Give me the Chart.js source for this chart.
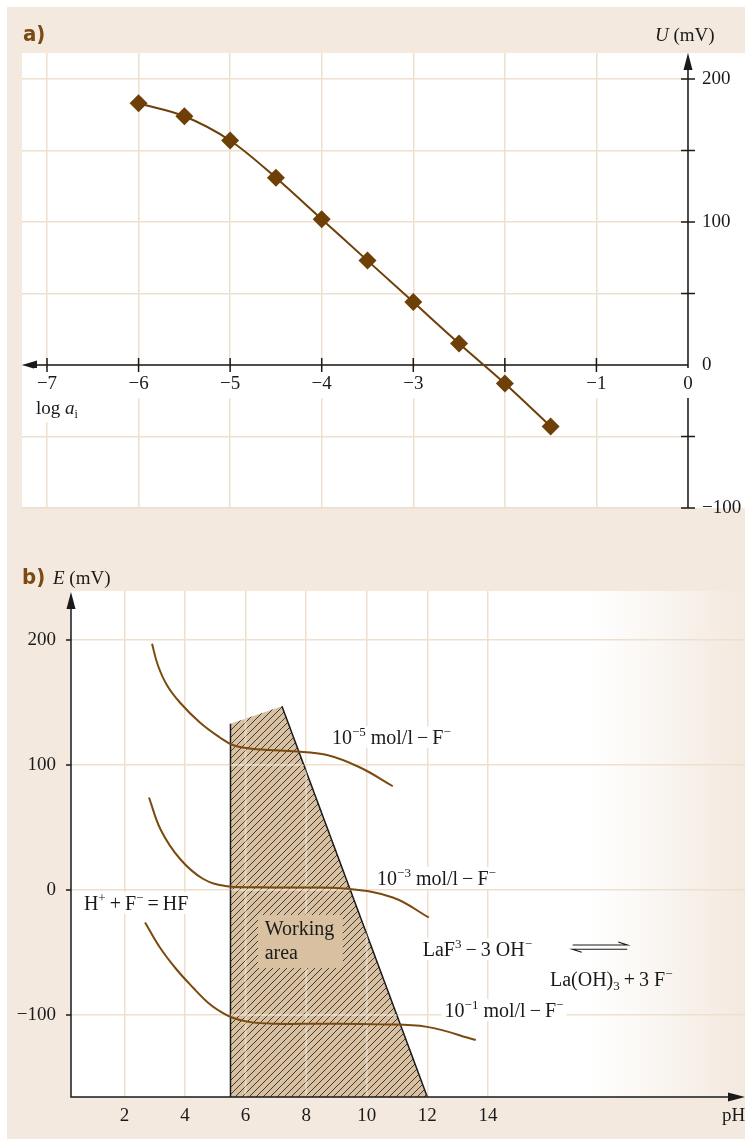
<!DOCTYPE html>
<html>
<head>
<meta charset="utf-8">
<script src="https://cdn.jsdelivr.net/npm/chart.js@4.4.1/dist/chart.umd.min.js"></script>
<style>
  html, body { margin: 0; padding: 0; background: #fff; }
  #wrap { position: relative; width: 745px; height: 1139px; overflow: hidden; }
  #bg { position: absolute; left: 7px; top: 7px; right: 0; bottom: 0; background: #f3e9df; }
  #cA { position: absolute; left: 0; top: 0; }
  #cB { position: absolute; left: 0; top: 520px; }
</style>
</head>
<body>
<div id="wrap">
  <div id="bg"></div>
  <canvas id="cA" width="745" height="520"></canvas>
  <canvas id="cB" width="745" height="619"></canvas>
</div>
<script>
// ---- panel a: U vs log a_i ----
const logA = [-6, -5.5, -5, -4.5, -4, -3.5, -3, -2.5, -2, -1.5];
const potU = [183, 174, 157, 131, 102, 73, 44, 15, -13, -43];
const xTicksA = [-7, -6, -5, -4, -3, -2, -1, 0];
const xLabelsA = ['−7', '−6', '−5', '−4', '−3', '', '−1', '0'];   // -2 sits under a marker
const yTicksA = [-100, -50, 0, 50, 100, 150, 200];
const yLabelValsA = [-100, 0, 100, 200];

// ---- panel b: E vs pH ----
const pH5 = [2.91, 3.1, 3.4, 3.83, 4.49, 5.15, 5.58, 6.2, 7.56, 8.69, 9.78, 10.86];
const E5  = [197, 180, 164, 150, 134, 122, 116, 113, 111, 108, 98, 83];
const pH3 = [2.81, 3.2, 3.83, 4.59, 5.38, 6.4, 7.56, 9.34, 10.86, 12.05];
const E3  = [74, 48, 25, 9, 3, 2.2, 2, 1, -6, -22];
const pH1 = [2.68, 3.17, 3.7, 4.26, 4.75, 5.15, 5.55, 6.1, 7.0, 8.5, 10.43, 11.99, 13.6];
const E1  = [-26, -46, -63, -78, -90, -97, -102, -105.5, -107, -107, -107.5, -109.5, -120];
const workPH = [5.5, 5.5, 7.2, 12];
const workE  = [-165.6, 133, 147, -165.6];
const xTicksB = [2, 4, 6, 8, 10, 12, 14];
const yTicksB = [-100, 0, 100, 200];

const BEIGE = '#f3e9df';
const GRID = '#efdfce';
const BROWN = '#6e3f07';
const INK = '#1a1a1a';
const SERIF = '"Liberation Serif", "Times New Roman", serif';
const FS = 19;

const pts = (xs, ys) => xs.map((v, i) => ({ x: v, y: ys[i] }));

// text with sup/sub/italic pieces, y is the vertical centre
function rich(ctx, x, y, parts, fs, bg) {
  const fontOf = k => (k === 'i' ? 'italic ' : '') +
    ((k === 'sup' || k === 'sub') ? Math.round(fs * 0.64) : fs) + 'px ' + SERIF;
  let w = 0;
  parts.forEach(([t, k]) => { ctx.font = fontOf(k); w += ctx.measureText(t).width; });
  if (bg) { ctx.fillStyle = bg; ctx.fillRect(x - 3, y - fs * 0.55, w + 6, fs * 1.1); }
  ctx.fillStyle = INK;
  ctx.textAlign = 'left';
  ctx.textBaseline = 'alphabetic';
  const base = y + fs * 0.34;
  let cx = x;
  parts.forEach(([t, k]) => {
    ctx.font = fontOf(k);
    const dy = k === 'sup' ? -fs * 0.4 : k === 'sub' ? fs * 0.2 : 0;
    ctx.fillText(t, cx, base + dy);
    cx += ctx.measureText(t).width;
  });
  return w;
}

function arrowHead(ctx, x, y, dir, len, half) {
  ctx.beginPath();
  if (dir === 'left') { ctx.moveTo(x, y); ctx.lineTo(x + len, y - half); ctx.lineTo(x + len, y + half); }
  if (dir === 'right') { ctx.moveTo(x, y); ctx.lineTo(x - len, y - half); ctx.lineTo(x - len, y + half); }
  if (dir === 'up') { ctx.moveTo(x, y); ctx.lineTo(x - half, y + len); ctx.lineTo(x + half, y + len); }
  ctx.closePath();
  ctx.fill();
}

function panelLabel(ctx, t, x, y) {
  ctx.font = 'bold 22px "Liberation Sans Narrow", "DejaVu Sans Condensed", sans-serif';
  ctx.fillStyle = '#7a4a12';
  ctx.textAlign = 'left';
  ctx.textBaseline = 'middle';
  ctx.fillText(t, x, y);
}

function hiddenScale(ticks, min, max, horizontal) {
  return {
    type: 'linear', min, max,
    afterBuildTicks: s => { s.ticks = ticks.map(v => ({ value: v })); },
    afterFit: s => { if (horizontal) s.height = 0; else s.width = 0; },
    ticks: { display: false },
    border: { display: false },
    grid: { color: GRID, lineWidth: 1.5, drawTicks: false }
  };
}

// ------------------------------------------------------------ chart a
const panelAPlugin = {
  id: 'panelA',
  beforeDraw(chart) {
    const { ctx, chartArea: ca } = chart;
    ctx.save();
    ctx.fillStyle = '#fff';
    ctx.fillRect(ca.left, ca.top, chart.width - ca.left, ca.bottom - ca.top);
    ctx.restore();
  },
  beforeDatasetsDraw(chart) {
    const { ctx, chartArea: ca, scales: { x, y } } = chart;
    const x0 = x.getPixelForValue(0), y0 = y.getPixelForValue(0);
    ctx.save();
    ctx.strokeStyle = INK; ctx.fillStyle = INK; ctx.lineWidth = 1.5;
    // axes
    ctx.beginPath();
    ctx.moveTo(ca.left + 4, y0); ctx.lineTo(x0, y0);
    ctx.moveTo(x0, ca.top + 6); ctx.lineTo(x0, ca.bottom);
    ctx.stroke();
    arrowHead(ctx, ca.left, y0, 'left', 15, 4.5);
    arrowHead(ctx, x0, ca.top, 'up', 17, 4.5);
    // white backing of x tick labels
    ctx.font = FS + 'px ' + SERIF;
    ctx.textAlign = 'center'; ctx.textBaseline = 'middle';
    xTicksA.forEach((v, i) => {
      if (!xLabelsA[i]) return;
      const px = x.getPixelForValue(v);
      const w = ctx.measureText(xLabelsA[i]).width;
      ctx.fillStyle = '#fff';
      ctx.fillRect(px - w / 2 - 3, y0 + 3, w + 6, 30);
    });
    // ticks
    ctx.beginPath();
    xTicksA.forEach(v => {
      if (v === 0) return;
      const px = x.getPixelForValue(v);
      ctx.moveTo(px, y0 - 7); ctx.lineTo(px, y0 + 7);
    });
    yTicksA.forEach(v => {
      if (v === 0) return;
      const py = y.getPixelForValue(v);
      ctx.moveTo(x0 - 7, py); ctx.lineTo(x0 + 7, py);
    });
    ctx.stroke();
    ctx.fillStyle = INK;
    ctx.font = FS + 'px ' + SERIF;
    ctx.textAlign = 'center'; ctx.textBaseline = 'middle';
    xTicksA.forEach((v, i) => {
      if (xLabelsA[i]) ctx.fillText(xLabelsA[i], x.getPixelForValue(v), y0 + 19);
    });
    ctx.textAlign = 'left';
    yLabelValsA.forEach(v => {
      ctx.fillText(v < 0 ? '−' + Math.abs(v) : String(v), x0 + 14, y.getPixelForValue(v));
    });
    // axis titles
    const lx = x.getPixelForValue(-7.12), ly = y.getPixelForValue(-30);
    ctx.fillStyle = '#fff';
    ctx.fillRect(lx - 3, ly - 12, 52, 26);
    rich(ctx, lx, ly, [['log ', 'n'], ['a', 'i'], ['i', 'sub']], FS);
    rich(ctx, x0 - 33, ca.top - 18, [['U', 'i'], [' (mV)', 'n']], FS);
    panelLabel(ctx, 'a)', 23, ca.top - 18);
    ctx.restore();
  }
};

new Chart(document.getElementById('cA'), {
  type: 'scatter',
  data: {
    datasets: [{
      data: pts(logA, potU),
      showLine: true,
      borderColor: BROWN,
      borderWidth: 2,
      cubicInterpolationMode: 'monotone',
      pointStyle: 'rectRot',
      pointRadius: 9,
      pointBackgroundColor: BROWN,
      pointBorderColor: BROWN,
      pointBorderWidth: 0,
      clip: false
    }]
  },
  options: {
    responsive: false,
    animation: false,
    events: [],
    layout: { padding: { left: 22, right: 57, top: 53, bottom: 12 }, autoPadding: false },
    plugins: { legend: { display: false }, tooltip: { enabled: false } },
    scales: {
      x: hiddenScale(xTicksA, -7.273, 0, true),
      y: hiddenScale(yTicksA, -100, 218.2, false)
    }
  },
  plugins: [panelAPlugin]
});

// ------------------------------------------------------------ chart b
function hatchPattern() {
  const s = 7;
  const c = document.createElement('canvas');
  c.width = s; c.height = s;
  const g = c.getContext('2d');
  g.fillStyle = '#d8c0a0';
  g.fillRect(0, 0, s, s);
  g.strokeStyle = '#2a2a2a';
  g.lineWidth = 0.9;
  g.beginPath();
  g.moveTo(-1, s + 1); g.lineTo(s + 1, -1);
  g.moveTo(-1, 1); g.lineTo(1, -1);
  g.moveTo(s - 1, s + 1); g.lineTo(s + 1, s - 1);
  g.stroke();
  return g.createPattern(c, 'repeat');
}

const DASH = '\u2009−\u2009';
const notesB = [
  { x: 8.85, y: 122.4, bg: true, parts: [['10', 'n'], ['−5', 'sup'], [' mol/l' + DASH + 'F', 'n'], ['−', 'sup']] },
  { x: 10.34, y: 9.6, bg: true, parts: [['10', 'n'], ['−3', 'sup'], [' mol/l' + DASH + 'F', 'n'], ['−', 'sup']] },
  { x: 12.57, y: -96, bg: true, parts: [['10', 'n'], ['−1', 'sup'], [' mol/l' + DASH + 'F', 'n'], ['−', 'sup']] },
  { x: 0.66, y: -10.4, bg: true, parts: [['H', 'n'], ['+', 'sup'], ['\u2009+\u2009F', 'n'], ['−', 'sup'], ['\u2009=\u2009HF', 'n']] },
  { x: 11.85, y: -47.2, bg: true, parts: [['LaF', 'n'], ['3', 'sup'], [DASH + '3 OH', 'n'], ['−', 'sup']] },
  { x: 16.05, y: -71.2, bg: false, parts: [['La(OH)', 'n'], ['3', 'sub'], ['\u2009+\u20093 F', 'n'], ['−', 'sup']] }
];

const panelBPlugin = {
  id: 'panelB',
  beforeDraw(chart) {
    const { ctx, chartArea: ca } = chart;
    ctx.save();
    ctx.fillStyle = '#fff';
    ctx.fillRect(ca.left, ca.top, ca.right - ca.left, ca.bottom - ca.top);
    const g = ctx.createLinearGradient(ca.right - 155, 0, ca.right, 0);
    g.addColorStop(0, 'rgba(243,233,223,0)');
    g.addColorStop(1, BEIGE);
    ctx.fillStyle = g;
    ctx.fillRect(ca.right - 155, ca.top, 155, ca.bottom - ca.top);
    ctx.restore();
  },
  afterDatasetDraw(chart, args) {
    if (args.index !== 0) return;
    // grid shows faintly through the hatched working area
    const { ctx, chartArea: ca, scales: { x, y } } = chart;
    const p = args.meta.data;
    ctx.save();
    ctx.beginPath();
    p.forEach((pt, i) => (i ? ctx.lineTo(pt.x, pt.y) : ctx.moveTo(pt.x, pt.y)));
    ctx.closePath();
    ctx.clip();
    ctx.strokeStyle = 'rgba(255,250,244,0.45)';
    ctx.lineWidth = 2;
    ctx.beginPath();
    xTicksB.forEach(v => { const px = x.getPixelForValue(v); ctx.moveTo(px, ca.top); ctx.lineTo(px, ca.bottom); });
    yTicksB.forEach(v => { const py = y.getPixelForValue(v); ctx.moveTo(ca.left, py); ctx.lineTo(ca.right, py); });
    ctx.stroke();
    ctx.restore();
  },
  afterDraw(chart) {
    const { ctx, chartArea: ca, scales: { x, y } } = chart;
    ctx.save();
    ctx.strokeStyle = INK; ctx.fillStyle = INK; ctx.lineWidth = 1.5;
    ctx.beginPath();
    ctx.moveTo(ca.left, ca.top + 6); ctx.lineTo(ca.left, ca.bottom);
    ctx.lineTo(ca.right - 6, ca.bottom);
    yTicksB.forEach(v => { const py = y.getPixelForValue(v); ctx.moveTo(ca.left - 5, py); ctx.lineTo(ca.left, py); });
    ctx.stroke();
    arrowHead(ctx, ca.left, ca.top + 1, 'up', 17, 4.5);
    arrowHead(ctx, ca.right, ca.bottom, 'right', 17, 4.5);

    ctx.font = FS + 'px ' + SERIF;
    ctx.textBaseline = 'middle';
    ctx.textAlign = 'right';
    yTicksB.forEach(v => ctx.fillText(v < 0 ? '−' + Math.abs(v) : String(v), ca.left - 15, y.getPixelForValue(v)));
    ctx.textAlign = 'center';
    xTicksB.forEach(v => ctx.fillText(String(v), x.getPixelForValue(v), ca.bottom + 19));
    ctx.textAlign = 'left';
    ctx.fillText('pH', ca.right - 23, ca.bottom + 19);

    rich(ctx, ca.left - 18, ca.top - 13, [['E', 'i'], [' (mV)', 'n']], FS);
    panelLabel(ctx, 'b)', 22, ca.top - 13);

    // working area label box
    const bx0 = x.getPixelForValue(6.41), bx1 = x.getPixelForValue(9.21);
    const by0 = y.getPixelForValue(-20), by1 = y.getPixelForValue(-62.4);
    ctx.fillStyle = '#d8c0a0';
    ctx.fillRect(bx0, by0, bx1 - bx0, by1 - by0);
    rich(ctx, x.getPixelForValue(6.63), y.getPixelForValue(-30.4), [['Working', 'n']], 20);
    rich(ctx, x.getPixelForValue(6.63), y.getPixelForValue(-49.6), [['area', 'n']], 20);

    notesB.forEach(n => rich(ctx, x.getPixelForValue(n.x), y.getPixelForValue(n.y), n.parts, 20, n.bg ? '#fff' : null));

    // equilibrium harpoons
    const ax0 = x.getPixelForValue(16.8), ax1 = x.getPixelForValue(18.6);
    const ay0 = y.getPixelForValue(-44), ay1 = y.getPixelForValue(-47.4);
    ctx.strokeStyle = INK; ctx.lineWidth = 1.2;
    ctx.beginPath();
    ctx.moveTo(ax0, ay0); ctx.lineTo(ax1, ay0); ctx.lineTo(ax1 - 9, ay0 - 3);
    ctx.moveTo(ax1, ay1); ctx.lineTo(ax0, ay1); ctx.lineTo(ax0 + 9, ay1 + 3);
    ctx.stroke();
    ctx.restore();
  }
};

const curve = (xs, ys) => ({
  type: 'line', data: pts(xs, ys), borderColor: '#7a4a0f', borderWidth: 2,
  tension: 0.4, pointRadius: 0, fill: false, order: 1
});

new Chart(document.getElementById('cB'), {
  type: 'line',
  data: {
    datasets: [
      {
        type: 'line',
        data: pts(workPH, workE),
        tension: 0,
        fill: 'start',
        backgroundColor: hatchPattern(),
        borderColor: INK,
        borderWidth: 1.5,
        segment: { borderColor: c => (c.p0DataIndex === 1 ? 'rgba(0,0,0,0)' : INK) },
        pointRadius: 0,
        order: 10
      },
      curve(pH5, E5),
      curve(pH3, E3),
      curve(pH1, E1)
    ]
  },
  options: {
    responsive: false,
    animation: false,
    events: [],
    layout: { padding: { left: 71, right: 0, top: 71, bottom: 42 }, autoPadding: false },
    plugins: { legend: { display: false }, tooltip: { enabled: false } },
    scales: {
      x: hiddenScale(xTicksB, 0.234, 22.49, true),
      y: hiddenScale(yTicksB, -165.6, 239.2, false)
    }
  },
  plugins: [panelBPlugin]
});
</script>
</body>
</html>
